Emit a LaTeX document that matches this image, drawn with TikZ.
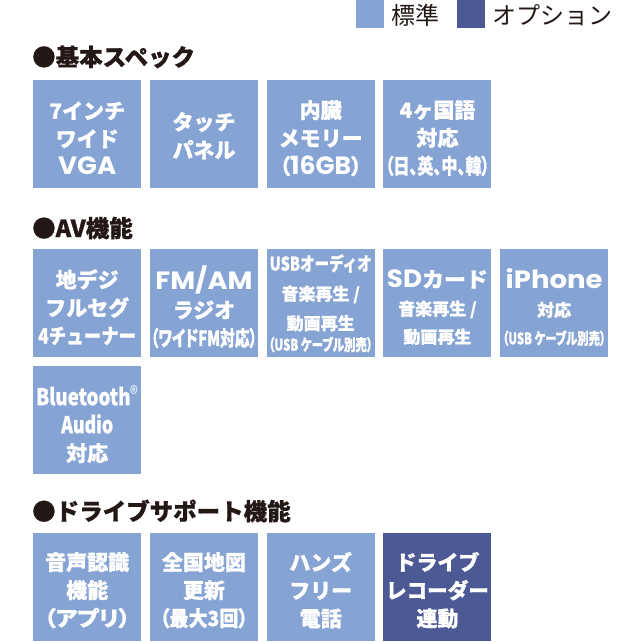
\documentclass[tikz,border=0pt]{standalone}
\usepackage{fontspec}
\usepackage{graphicx}
\setmainfont{Noto Sans CJK JP}[BoldFeatures={FakeBold=0.8}]
\newfontfamily\jpprop{Noto Sans CJK JP}[RawFeature=+palt, BoldFeatures={FakeBold=0.8}]
\newfontfamily\geofont{Poppins}
\definecolor{stdblue}{RGB}{133,164,212}
\definecolor{optblue}{RGB}{77,89,148}
\definecolor{inkblack}{RGB}{35,24,21}
\newcommand{\fitto}[2]{\resizebox{#1}{\height}{#2}}
\newcommand{\geo}[1]{{\geofont\fontsize{25}{28}\selectfont #1}}

\begin{document}
\begin{tikzpicture}[x=1pt,y=-1pt,
    std/.style={fill=stdblue, minimum width=108pt, minimum height=108pt, inner sep=0pt, anchor=north west},
    opt/.style={std, fill=optblue},
    key/.style={std, minimum width=28pt, minimum height=28pt},
    boxtext/.style={text=white, align=center, inner sep=0pt, font=\fontsize{21}{28}\selectfont\bfseries},
    heading/.style={anchor=west, inner sep=0pt, text=inkblack, font=\fontsize{23.5}{28}\selectfont\bfseries},
    legend/.style={anchor=west, inner sep=0pt, text=inkblack, font=\fontsize{24}{28}\selectfont}]
    \useasboundingbox (0,0) rectangle (642,642);

    % legend
    \node[key] (keystd) at (356,0) {};
    \node[legend] (keystdtext) at (391,15) {標準};
    \node[key, fill=optblue] (keyopt) at (457,0) {};
    \node[legend] (keyopttext) at (492,15) {オプション};

    % headings
    \node[heading] (basic) at (32,57) {●基本スペック};
    \node[heading] (av) at (32,228) {●AV機能};
    \node[heading] (drive) at (32,511) {●ドライブサポート機能};

    % basic spec
    \node[std] (inch) at (33,80) {};
    \node[std] (touch) at (149.75,80) {};
    \node[std] (memory) at (266.5,80) {};
    \node[std] (lang) at (383.25,80) {};
    \node[boxtext] (inchtext) at ([yshift=-4pt]inch.center) {7インチ\\ワイド\\\fitto{58pt}{\geo{VGA}}};
    \node[boxtext] (touchtext) at ([yshift=-1.5pt]touch.center) {タッチ\\パネル};
    \node[boxtext] (memorytext) at ([yshift=-4pt]memory.center) {内臓\\メモリー\\\fitto{82pt}{{\jpprop （}\geo{16GB}{\jpprop ）}}};
    \node[boxtext] (langtext) at ([yshift=-4pt]lang.center) {4ヶ国語\\対応\\\fitto{104pt}{\jpprop （日、英、中、韓）}};

    % AV
    \node[std] (tv) at (33,249) {};
    \node[std] (radio) at (149.75,249) {};
    \node[std] (usb) at (266.5,249) {};
    \node[std] (sdcard) at (383.25,249) {};
    \node[std] (iphone) at (500,249) {};
    \node[boxtext] (tvtext) at ([yshift=-4pt]tv.center) {地デジ\\フルセグ\\\fitto{98pt}{4チューナー}};
    \node[boxtext] (radiotext) at ([yshift=-4pt]radio.center) {\fitto{97pt}{\geo{FM/AM}}\\ラジオ\\\fitto{106pt}{\jpprop （ワイドFM対応）}};
    \node[boxtext, font=\fontsize{17}{29.5}\selectfont\bfseries] (usbtext) at (usb.center)
        {\fitto{102pt}{\fontsize{19}{19}\selectfont USBオーディオ}\\音楽再生 /\\動画再生\\[-8.5pt]\fitto{104pt}{\jpprop\fontsize{16}{16}\selectfont （USB ケーブル別売）}};
    \node[boxtext] (sdcardtext) at ([yshift=-4pt]sdcard.center)
        {\fitto{101pt}{\geo{SD}カード}\\{\fontsize{17}{28}\selectfont 音楽再生 /}\\{\fontsize{17}{28}\selectfont 動画再生}};
    \node[boxtext] (iphonetext) at ([yshift=-4pt]iphone.center)
        {\fitto{97pt}{\geo{iPhone}}\\{\fontsize{17}{28}\selectfont 対応}\\\fitto{103pt}{\jpprop\fontsize{16}{16}\selectfont （USB ケーブル別売）}};

    \node[std] (bluetooth) at (33,366) {};
    \node[boxtext] (bluetoothtext) at ([yshift=-4pt]bluetooth.center)
        {\fitto{102pt}{\fontsize{23}{28}\selectfont Bluetooth\raisebox{4pt}{\fontsize{20}{20}\selectfont\mdseries ®}}\\\fitto{52pt}{\fontsize{23}{28}\selectfont Audio}\\対応};

    % drive support
    \node[std] (voice) at (33,533) {};
    \node[std] (mapupdate) at (149.75,533) {};
    \node[std] (handsfree) at (266.5,533) {};
    \node[opt] (recorder) at (383.25,533) {};
    \node[boxtext] (voicetext) at ([yshift=-3pt]voice.center) {音声認識\\機能\\\fitto{86pt}{\jpprop （アプリ）}};
    \node[boxtext] (mapupdatetext) at ([yshift=-3pt]mapupdate.center) {全国地図\\更新\\\fitto{88pt}{\jpprop （最大3回）}};
    \node[boxtext] (handsfreetext) at ([yshift=-3pt]handsfree.center) {ハンズ\\フリー\\電話};
    \node[boxtext] (recordertext) at ([yshift=-3pt]recorder.center) {ドライブ\\\fitto{103pt}{レコーダー}\\連動};
\end{tikzpicture}
\end{document}
